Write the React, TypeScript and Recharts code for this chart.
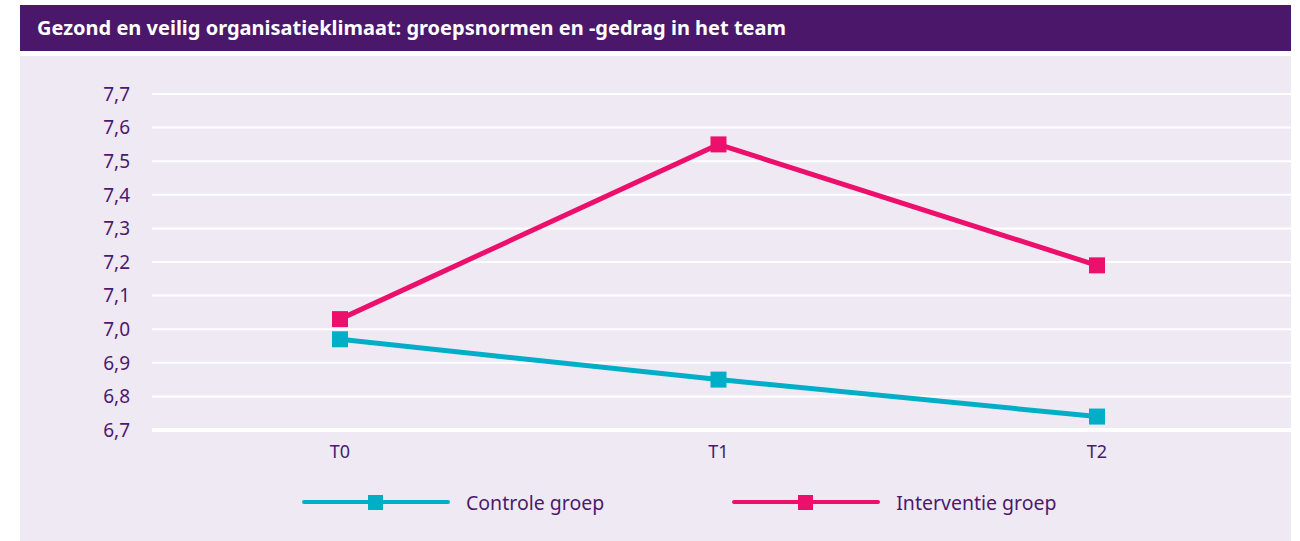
import React from 'react';
import { LineChart, Line, XAxis, YAxis, CartesianGrid, Legend } from 'recharts';

const categories = ['T0', 'T1', 'T2'];
const controleValues = [6.97, 6.85, 6.74];
const interventieValues = [7.03, 7.55, 7.19];
const yTicks = [6.7, 6.8, 6.9, 7.0, 7.1, 7.2, 7.3, 7.4, 7.5, 7.6, 7.7];

const seriesInfo = [
  { key: 'controle', name: 'Controle groep', color: '#00aec7' },
  { key: 'interventie', name: 'Interventie groep', color: '#ec0f6b' },
];

const textColor = '#4b1a6e';
const fontFamily = '"Noto Sans", sans-serif';

const data = categories.map((c, i) => ({
  name: c,
  controle: controleValues[i],
  interventie: interventieValues[i],
}));

const SquareDot = (props: any) => {
  const { cx, cy, stroke } = props;
  if (cx == null || cy == null) return null;
  return <rect x={cx - 8} y={cy - 8} width={16} height={16} fill={stroke} />;
};

const LegendContent = () => (
  <div style={{ display: 'flex', alignItems: 'center', fontFamily, fontSize: 19.5, color: textColor, height: 32 }}>
    {seriesInfo.map((s, i) => (
      <div key={s.key} style={{ display: 'flex', alignItems: 'center', marginRight: i === 0 ? 128 : 0 }}>
        <svg width={148} height={18} style={{ marginRight: 16 }}>
          <line x1={2} y1={9} x2={146} y2={9} stroke={s.color} strokeWidth={4} strokeLinecap="round" />
          <rect x={66} y={2} width={15} height={15} fill={s.color} />
        </svg>
        <span>{s.name}</span>
      </div>
    ))}
  </div>
);

export default function App() {
  return (
    <div style={{ position: 'absolute', left: 0, top: 0, width: 1300, height: 541, background: '#fff' }}>
      <div
        style={{
          position: 'absolute',
          left: 20,
          top: 5,
          width: 1271,
          height: 46,
          background: '#4b176b',
          color: '#fff',
          fontFamily,
          fontWeight: 700,
          fontSize: 20,
          lineHeight: '46px',
          paddingLeft: 17,
          boxSizing: 'border-box',
        }}
      >
        Gezond en veilig organisatieklimaat: groepsnormen en -gedrag in het team
      </div>
      <div style={{ position: 'absolute', left: 20, top: 56, width: 1271, height: 485, background: '#efe9f4' }}>
        <LineChart width={1271} height={485} data={data} margin={{ top: 38, right: 0, bottom: 49, left: 0 }}>
          <CartesianGrid vertical={false} stroke="#ffffff" strokeWidth={2} />
          <XAxis
            dataKey="name"
            padding={{ left: 188, right: 194 }}
            axisLine={{ stroke: '#ffffff', strokeWidth: 4 }}
            tickLine={false}
            tickMargin={9}
            tick={{ fill: textColor, fontSize: 18, fontFamily }}
          />
          <YAxis
            type="number"
            domain={[6.7, 7.7]}
            ticks={yTicks}
            interval={0}
            width={132}
            axisLine={false}
            tickLine={false}
            tickSize={0}
            tickMargin={22}
            tickFormatter={(v: number) => v.toFixed(1).replace('.', ',')}
            tick={{ fill: textColor, fontSize: 19, fontFamily }}
          />
          <Legend
            content={<LegendContent />}
            wrapperStyle={{ left: 282, bottom: 23, width: 'auto' }}
          />
          {seriesInfo.map((s) => (
            <Line
              key={s.key}
              dataKey={s.key}
              name={s.name}
              type="linear"
              stroke={s.color}
              strokeWidth={5}
              dot={<SquareDot />}
              activeDot={false}
              isAnimationActive={false}
            />
          ))}
        </LineChart>
      </div>
    </div>
  );
}
